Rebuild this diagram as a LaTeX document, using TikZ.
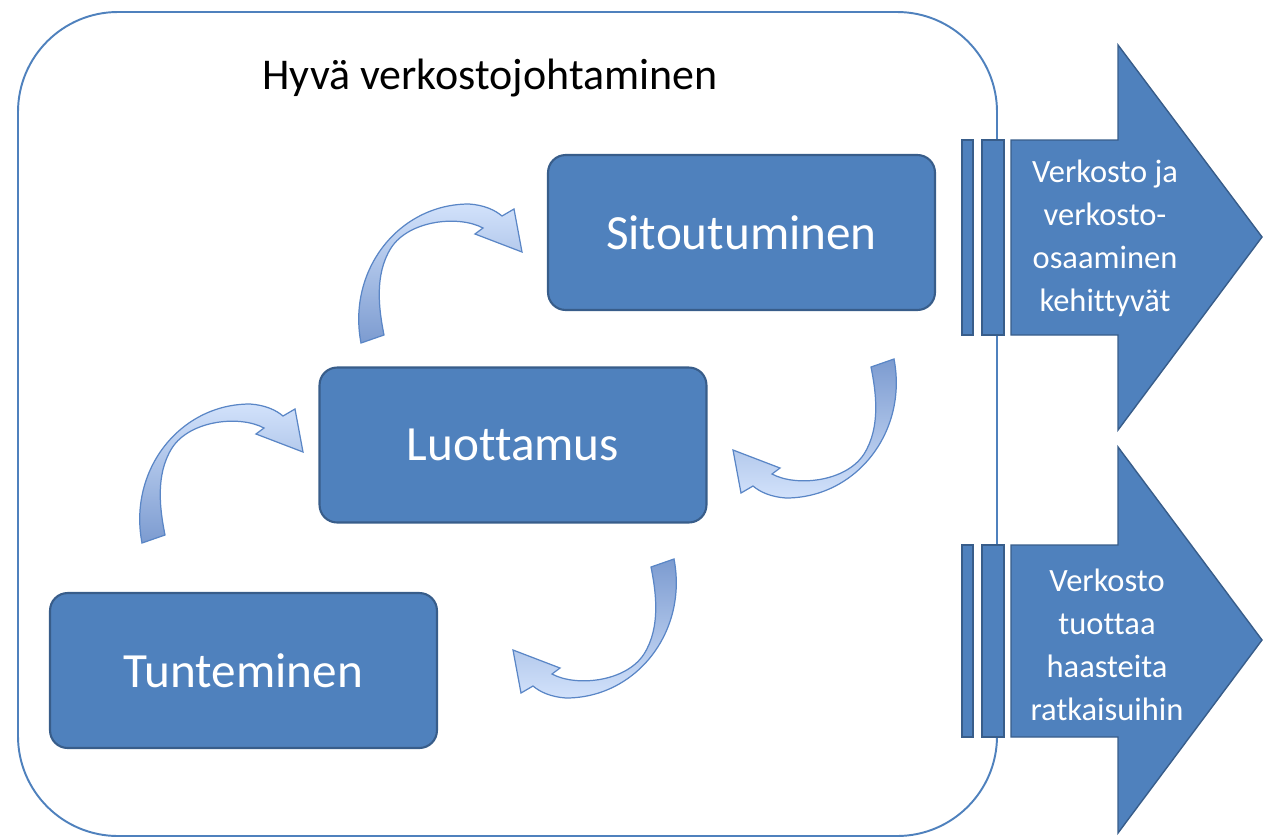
\documentclass[tikz,border=0pt]{standalone}
\usepackage{fontspec}
\setmainfont{Carlito}[Ligatures=NoCommon]
\usetikzlibrary{calc}

\definecolor{boxfill}{HTML}{4F81BD}
\definecolor{boxline}{HTML}{385D8A}
\definecolor{bendlight}{HTML}{D2E2FB}
\definecolor{benddark}{HTML}{7C9BD0}
\definecolor{bendline}{HTML}{5A86C6}

\tikzset{
  stepbox/.style={draw=boxline, line width=1.2pt, fill=boxfill, rounded corners=10pt,
    minimum width=7.74cm, minimum height=3.1cm, text=white, font=\fontsize{28}{32}\selectfont},
  curvearrow/.style={draw=bendline, line width=0.7pt, bottom color=benddark, top color=bendlight},
  curvearrowflip/.style={draw=bendline, line width=0.7pt, top color=benddark, bottom color=bendlight},
  bigarrow/.style={draw=boxline, line width=0.8pt, fill=boxfill},
  arrowtext/.style={text=white, align=center, font=\fontsize{18.5}{24.5}\selectfont},
  frame/.style={draw=boxfill, line width=1.1pt, rounded corners=2cm}
}

\newcommand{\bendarrow}[1][curvearrow]{%
  \path[#1] (142,543) .. controls (128,470) and (180,404) .. (250,404)
    .. controls (265,405) and (276,410) .. (283,416) -- (295,409) -- (303,452)
    -- (256,434) -- (264,428) .. controls (240,415) and (190,420) .. (172,448)
    .. controls (155,475) and (160,510) .. (165,535) -- cycle;}

\begin{document}
\begin{tikzpicture}[x=0.02cm, y=-0.02cm]
  \useasboundingbox (0,0) rectangle (1263,839);
  \draw[frame] (18,12) rectangle (997,836);
  \node[font=\fontsize{25}{30}\selectfont] (title) at (490,78) {Hyvä verkostojohtaminen};

  \node[stepbox] (sit) at (741.5,232.5) {Sitoutuminen};
  \node[stepbox] (luo) at (513,445) {Luottamus};
  \node[stepbox] (tun) at (243.5,670.5) {Tunteminen};

  \bendarrow
  \begin{scope}[shift={(219,-200)}]
    \bendarrow
  \end{scope}
  \begin{scope}[shift={(1036,902)}, scale=-1]
    \bendarrow[curvearrowflip]
  \end{scope}
  \begin{scope}[shift={(816,1102)}, scale=-1]
    \bendarrow[curvearrowflip]
  \end{scope}

  \draw[bigarrow] (1011,140) -- (1118,140) -- (1118,45) -- (1262,237) -- (1118,430)
    -- (1118,335) -- (1011,335) -- cycle;
  \draw[bigarrow] (962,140) rectangle (973,335);
  \draw[bigarrow] (982,140) rectangle (1004,335);
  \node[arrowtext] (grow) at (1105,238) {Verkosto ja\\verkosto-\\osaaminen\\kehittyvät};

  \draw[bigarrow] (1011,545) -- (1118,545) -- (1118,447) -- (1262,640) -- (1118,833)
    -- (1118,737) -- (1011,737) -- cycle;
  \draw[bigarrow] (962,545) rectangle (973,737);
  \draw[bigarrow] (982,545) rectangle (1004,737);
  \node[arrowtext] (solve) at (1107,645) {Verkosto\\tuottaa\\haasteita\\ratkaisuihin};
\end{tikzpicture}
\end{document}
